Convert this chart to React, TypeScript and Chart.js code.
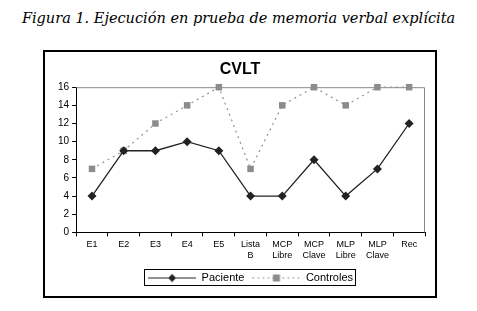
import React, { useEffect, useRef } from "react";
import { Chart, registerables } from "chart.js";

Chart.register(...registerables);

const categories: (string | string[])[] = [
  "E1", "E2", "E3", "E4", "E5",
  ["Lista", "B"], ["MCP", "Libre"], ["MCP", "Clave"], ["MLP", "Libre"], ["MLP", "Clave"], "Rec",
];
const paciente = [4, 9, 9, 10, 9, 4, 4, 8, 4, 7, 12];
const controles = [7, 9, 12, 14, 16, 7, 14, 16, 14, 16, 16];
const chartTitle = "CVLT";
const caption = "Figura 1. Ejecución en prueba de memoria verbal explícita";

function makeSymbol(kind: "p" | "c"): HTMLCanvasElement {
  const c = document.createElement("canvas");
  c.width = 48;
  c.height = 10;
  const ctx = c.getContext("2d")!;
  ctx.lineWidth = 1;
  if (kind === "p") {
    ctx.strokeStyle = "#222";
    ctx.beginPath();
    ctx.moveTo(0, 5.5);
    ctx.lineTo(48, 5.5);
    ctx.stroke();
    ctx.fillStyle = "#222";
    ctx.beginPath();
    ctx.moveTo(24, 1.5);
    ctx.lineTo(28, 5.5);
    ctx.lineTo(24, 9.5);
    ctx.lineTo(20, 5.5);
    ctx.closePath();
    ctx.fill();
  } else {
    ctx.strokeStyle = "#999";
    ctx.setLineDash([2, 3]);
    ctx.beginPath();
    ctx.moveTo(0, 5.5);
    ctx.lineTo(48, 5.5);
    ctx.stroke();
    ctx.fillStyle = "#8c8c8c";
    ctx.fillRect(20.5, 2, 7, 7);
  }
  return c;
}

export default function App() {
  const ref = useRef<HTMLCanvasElement>(null);
  useEffect(() => {
    document.body.style.margin = "0";
    const symP = makeSymbol("p");
    const symC = makeSymbol("c");
    const frame = {
      id: "frame",
      beforeDatasetsDraw(chart: any) {
        const a = chart.chartArea;
        const ctx = chart.ctx;
        ctx.save();
        ctx.strokeStyle = "#888";
        ctx.lineWidth = 1;
        ctx.beginPath();
        ctx.moveTo(a.left, a.top + 0.5);
        ctx.lineTo(a.right - 0.5, a.top + 0.5);
        ctx.lineTo(a.right - 0.5, a.bottom);
        ctx.stroke();
        ctx.restore();
      },
      afterDraw(chart: any) {
        const lg = chart.legend;
        if (!lg || !lg.legendHitBoxes || !lg.legendHitBoxes.length) return;
        const hb = lg.legendHitBoxes;
        let l = Infinity, r = -Infinity, t = Infinity, b = -Infinity;
        hb.forEach((h: any) => {
          l = Math.min(l, h.left);
          r = Math.max(r, h.left + h.width);
          t = Math.min(t, h.top);
          b = Math.max(b, h.top + h.height);
        });
        const ctx = chart.ctx;
        ctx.save();
        ctx.strokeStyle = "#000";
        ctx.lineWidth = 1;
        ctx.strokeRect(Math.round(l - 4) + 0.5, Math.round(t - 3) + 0.5, Math.round(r - l + 6), Math.round(b - t + 5));
        ctx.restore();
      },
    };
    const chart = new Chart(ref.current!, {
      type: "line",
      data: {
        labels: categories as any,
        datasets: [
          {
            label: "Paciente",
            data: paciente,
            borderColor: "#222",
            backgroundColor: "#222",
            borderWidth: 1.3,
            pointStyle: "rectRot",
            pointRadius: 4.5,
            pointBorderWidth: 0,
            tension: 0,
            clip: false,
          },
          {
            label: "Controles",
            data: controles,
            borderColor: "#999",
            backgroundColor: "#8c8c8c",
            borderWidth: 1.3,
            borderDash: [2, 4],
            pointStyle: "rect",
            pointRadius: 4.6,
            pointBorderWidth: 0,
            tension: 0,
            clip: false,
          },
        ],
      },
      options: {
        animation: false,
        responsive: false,
        devicePixelRatio: 1,
        layout: { padding: { left: 10, right: 10, top: 4, bottom: 3 } },
        plugins: {
          title: {
            display: true,
            text: chartTitle,
            color: "#000",
            font: { family: "Liberation Sans, Arial", size: 16, weight: "bold" },
            padding: { top: 4, bottom: 8 },
          },
          legend: {
            position: "bottom",
            fullSize: false,
            labels: {
              usePointStyle: true,
              pointStyleWidth: 48,
              color: "#000",
              font: { family: "Liberation Sans, Arial", size: 11 },
              boxHeight: 10,
              padding: 8,
              generateLabels: (ch: any) =>
                ch.data.datasets.map((d: any, i: number) => ({
                  text: d.label,
                  pointStyle: i === 0 ? symP : symC,
                  datasetIndex: i,
                  fillStyle: "transparent",
                  strokeStyle: "transparent",
                  lineWidth: 0,
                  hidden: false,
                })),
            },
          },
          tooltip: { enabled: false },
        },
        scales: {
          x: {
            offset: true,
            grid: { display: true, offset: true, drawOnChartArea: false, drawTicks: true, tickLength: 4, color: "#000" },
            border: { display: true, color: "#000" },
            ticks: {
              color: "#000",
              font: { family: "Liberation Sans, Arial", size: 9 },
              maxRotation: 0,
              autoSkip: false,
              padding: 3,
            },
          },
          y: {
            min: 0,
            max: 16,
            grid: { display: true, drawOnChartArea: false, drawTicks: true, tickLength: 4, color: "#000" },
            border: { display: true, color: "#000" },
            ticks: {
              stepSize: 2,
              color: "#000",
              font: { family: "Liberation Sans, Arial", size: 10 },
              padding: 3,
            },
          },
        },
      },
      plugins: [frame],
    });
    return () => chart.destroy();
  }, []);

  return (
    <div style={{ position: "relative", width: 477, height: 311, background: "#fff" }}>
      <div
        style={{
          position: "absolute",
          left: 0,
          top: 10,
          width: 477,
          textAlign: "center",
          fontFamily: "'DejaVu Serif', serif",
          fontStyle: "italic",
          fontSize: 14.5,
          color: "#000",
          whiteSpace: "nowrap",
        }}
      >
        {caption}
      </div>
      <div
        style={{
          position: "absolute",
          left: 43,
          top: 50,
          width: 394,
          height: 248,
          border: "2px solid #000",
          boxSizing: "border-box",
        }}
      >
        <canvas ref={ref} width={390} height={244} style={{ display: "block" }} />
      </div>
    </div>
  );
}
